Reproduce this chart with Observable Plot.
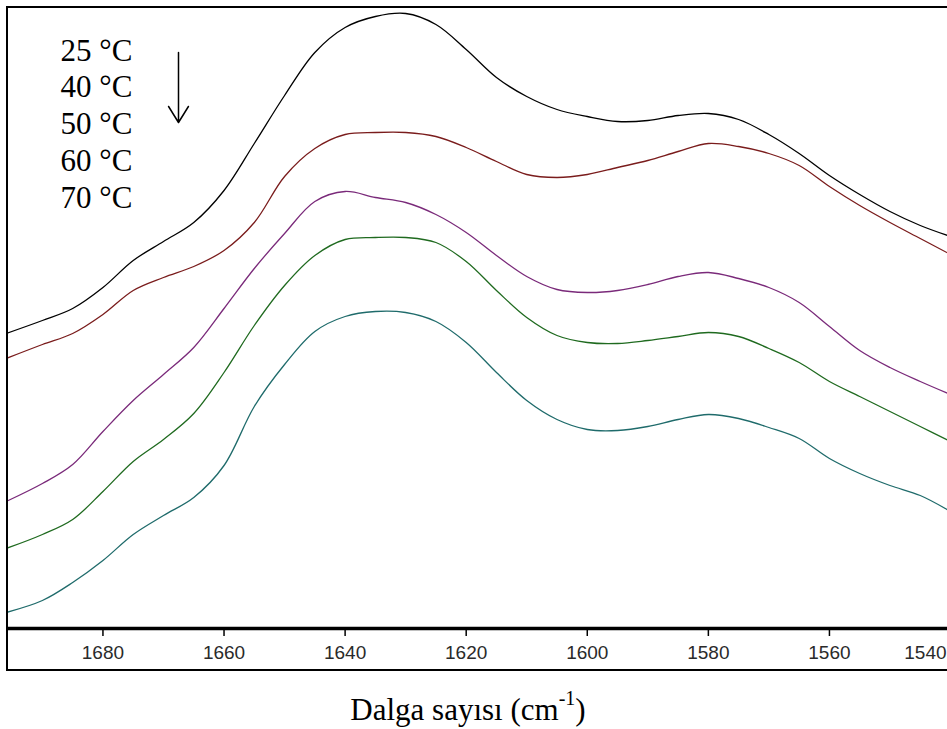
<!DOCTYPE html>
<html><head><meta charset="utf-8">
<script src="https://cdn.jsdelivr.net/npm/d3@7"></script>
<script src="https://cdn.jsdelivr.net/npm/@observablehq/plot@0.6"></script>
<style>
html,body{margin:0;padding:0;background:#fff;overflow:hidden;width:947px;height:729px}
#box{position:absolute;left:6px;top:6px;border-top:2px solid #000;border-left:2px solid #000;border-bottom:2px solid #000;width:945px;height:661px}
#cap{position:absolute;left:0;top:694px;width:936px;text-align:center;font-family:"Liberation Serif","Times New Roman",serif;font-size:31px;line-height:31px;color:#000}
#cap sup{font-size:20px;line-height:0;vertical-align:0;position:relative;top:-0.75em}
</style></head><body>
<div id="box"></div>
<div id="cap">Dalga sayısı (cm<sup>-1</sup>)</div>
<script>
// wavenumber (cm-1) sample positions
const wavenumbers = [1696,1690,1685,1680,1675,1670,1665,1660,1655,1650,1645,1640,1635,1630,1625,1620,1615,1610,1605,1600,1595,1590,1585,1580,1575,1570,1565,1560,1555,1550,1545,1540];
// absorbance-like values (arbitrary units, offset spectra)
const t25 = [0.295,0.308,0.320,0.341,0.368,0.387,0.406,0.438,0.485,0.533,0.576,0.601,0.612,0.615,0.604,0.579,0.551,0.532,0.519,0.512,0.507,0.508,0.513,0.515,0.509,0.494,0.475,0.453,0.434,0.417,0.403,0.392];
const t40 = [0.270,0.284,0.295,0.314,0.338,0.351,0.362,0.378,0.406,0.452,0.480,0.494,0.496,0.496,0.492,0.481,0.467,0.454,0.451,0.454,0.461,0.468,0.477,0.485,0.482,0.475,0.463,0.442,0.423,0.406,0.390,0.374];
const t50 = [0.127,0.145,0.164,0.197,0.228,0.254,0.281,0.320,0.360,0.395,0.427,0.437,0.431,0.426,0.414,0.396,0.373,0.352,0.339,0.336,0.338,0.344,0.352,0.356,0.350,0.341,0.326,0.302,0.278,0.261,0.247,0.234];
const t60 = [0.080,0.094,0.109,0.137,0.167,0.189,0.215,0.256,0.303,0.343,0.373,0.389,0.391,0.391,0.386,0.367,0.338,0.311,0.293,0.286,0.285,0.288,0.292,0.296,0.292,0.280,0.266,0.247,0.232,0.217,0.202,0.187];
const t70 = [0.016,0.028,0.046,0.068,0.094,0.113,0.131,0.163,0.222,0.264,0.297,0.312,0.317,0.316,0.307,0.286,0.256,0.228,0.209,0.199,0.198,0.202,0.209,0.214,0.210,0.201,0.190,0.170,0.155,0.143,0.133,0.117];
const seriesLabels = ["25 °C","40 °C","50 °C","60 °C","70 °C"];
const seriesColors = ["#000000","#7a1c1c","#7a2a7a","#1f6a1f","#1f6b6b"];
const xTicks = [1680,1660,1640,1620,1600,1580,1560];
const xTicksEdge = [1540];

const seriesValues = [t25,t40,t50,t60,t70];
const data = [];
seriesValues.forEach((vals, s) => vals.forEach((v, i) => data.push({series: seriesLabels[s], wn: wavenumbers[i], a: v})));

const arrowShape = {
  draw(context, l, r) {
    const w = (l * r) / 17.5;
    context.moveTo(0, 0);
    context.lineTo(0, -l);
    context.moveTo(-w * 0.62, w - l);
    context.lineTo(0, -l);
    context.lineTo(w * 0.62, w - l);
  }
};

const chart = Plot.plot({
  width: 939,
  height: 661,
  marginLeft: 0,
  marginRight: 0,
  marginTop: 0,
  marginBottom: 41,
  style: {background: "transparent", overflow: "hidden"},
  x: {domain: [1695.6, 1540.5], axis: null, label: null},
  y: {domain: [0, 0.62], axis: null, label: null},
  color: {domain: seriesLabels, range: seriesColors},
  marks: [
    Plot.line(data, {x: "wn", y: "a", stroke: "series", z: "series", curve: "catmull-rom", strokeWidth: 1.3, clip: true}),
    Plot.ruleY([0], {stroke: "#000", strokeWidth: 3.5}),
    Plot.axisX({ticks: xTicks, label: null, tickSize: 8, tickPadding: 9, tickFormat: d => String(d), fontSize: 19, fontFamily: "'Liberation Sans', Arial, sans-serif", fill: "#2a2a2a", stroke: "#000", strokeWidth: 1.5}),
    Plot.axisX({ticks: xTicksEdge, label: null, tickSize: 0, tickPadding: 17, tickFormat: d => String(d), textAnchor: "end", dx: -4, fontSize: 19, fontFamily: "'Liberation Sans', Arial, sans-serif", fill: "#2a2a2a"}),
    Plot.text([seriesLabels.join("\n")], {text: d => d, frameAnchor: "top-left", dx: 52, dy: 26, lineAnchor: "top", textAnchor: "start", lineHeight: 1.185, fontSize: 31, fontFamily: "'Liberation Serif', 'Times New Roman', serif", fill: "#000"}),
    Plot.vector([0], {frameAnchor: "top-left", dx: 170, dy: 44, length: 70, rotate: 180, anchor: "start", r: 4, shape: arrowShape, stroke: "#000", strokeWidth: 1.5})
  ]
});
chart.style.position = "absolute";
chart.style.left = "8px";
chart.style.top = "8px";
document.body.appendChild(chart);
</script>
</body></html>
